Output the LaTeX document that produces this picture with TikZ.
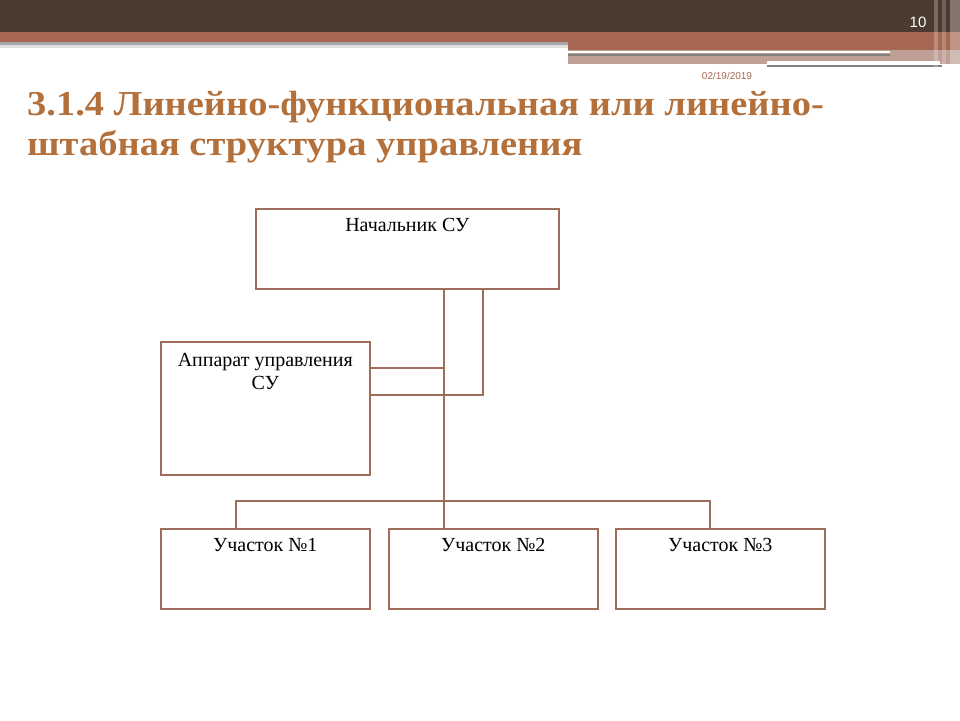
\documentclass[tikz,border=0pt]{standalone}
\usepackage{fontspec}
\setmainfont{Liberation Serif}
\newfontfamily\hdrfont{Liberation Sans}
\usetikzlibrary{calc}
\definecolor{hdrdark}{RGB}{76,59,48}
\definecolor{hdrrust}{RGB}{166,104,82}
\definecolor{hdrpale}{RGB}{190,160,150}
\definecolor{titlecol}{RGB}{180,112,58}
\definecolor{linecol}{RGB}{160,108,92}
\begin{document}
\begin{tikzpicture}[x=1pt,y=-1pt,
    box/.style={draw=linecol, line width=1.6pt, rectangle, inner sep=0pt},
    lbl/.style={font=\fontsize{20}{23}\selectfont, align=center, inner sep=0pt},
    link/.style={draw=linecol, line width=1.6pt}]
    \useasboundingbox (0,0) rectangle (960,720);
    % header bands
    \fill[hdrdark] (0,0) rectangle (960,32);
    \fill[hdrrust] (0,32) rectangle (960,42);
    \fill[hdrrust] (568,42) rectangle (960,50);
    \fill[gray!70] (0,42) rectangle (568,45);
    \fill[gray!25] (0,45) rectangle (568,48);
    \fill[hdrpale] (568,50) rectangle (960,64);
    \fill[white] (568,51) rectangle (890,53);
    \fill[gray] (568,54) rectangle (890,56);
    \fill[white] (767,61) rectangle (940,64);
    \fill[gray] (767,65) rectangle (942,67);
    \fill[white, opacity=0.25] (934,0) rectangle (938,68);
    \fill[white, opacity=0.2] (942,0) rectangle (946,68);
    \fill[white, opacity=0.3] (950,0) rectangle (960,68);
    \node[text=white, font=\hdrfont\fontsize{15}{17}\selectfont] (pagenum) at (918,22) {10};
    \node[text=hdrrust, font=\hdrfont\fontsize{10}{12}\selectfont] (date) at (727,76) {02/19/2019};
    % title
    \node[anchor=base west, text=titlecol, inner sep=0pt, xscale=1.1, font=\bfseries\fontsize{35}{40}\selectfont] (title1) at (27,115) {3.1.4 Линейно-функциональная или линейно-};
    \node[anchor=base west, text=titlecol, inner sep=0pt, xscale=1.1, font=\bfseries\fontsize{35}{40}\selectfont] (title2) at (27,155) {штабная структура управления};
    % boxes
    \node[box, minimum width=303pt, minimum height=80pt, anchor=north west] (nach) at (255,208) {};
    \node[lbl, anchor=north] at ($(nach.north)+(0,10)$) {Начальник СУ};
    \node[box, minimum width=209pt, minimum height=133pt, anchor=north west] (app) at (160,341) {};
    \node[lbl, anchor=north] at ($(app.north)+(0,12)$) {Аппарат управления\\СУ};
    \node[box, minimum width=209pt, minimum height=80pt, anchor=north west] (uch1) at (160,528) {};
    \node[lbl, anchor=north] at ($(uch1.north)+(0,10)$) {Участок №1};
    \node[box, minimum width=209pt, minimum height=80pt, anchor=north west] (uch2) at (388,528) {};
    \node[lbl, anchor=north] at ($(uch2.north)+(0,10)$) {Участок №2};
    \node[box, minimum width=209pt, minimum height=80pt, anchor=north west] (uch3) at (615,528) {};
    \node[lbl, anchor=north] at ($(uch3.north)+(0,10)$) {Участок №3};
    % connectors
    \coordinate (trunk) at (444,501);
    \coordinate (staff) at (483,395);
    \draw[link] (nach.south -| trunk) -- (uch2.north -| trunk);
    \draw[link] (nach.south -| staff) -- (staff) -- (app.east |- staff);
    \draw[link] (app.east |- 0,368) -- (trunk |- 0,368);
    \draw[link] (uch1.north -| 236,0) |- (trunk) -| (uch3.north -| 710,0);
\end{tikzpicture}
\end{document}
